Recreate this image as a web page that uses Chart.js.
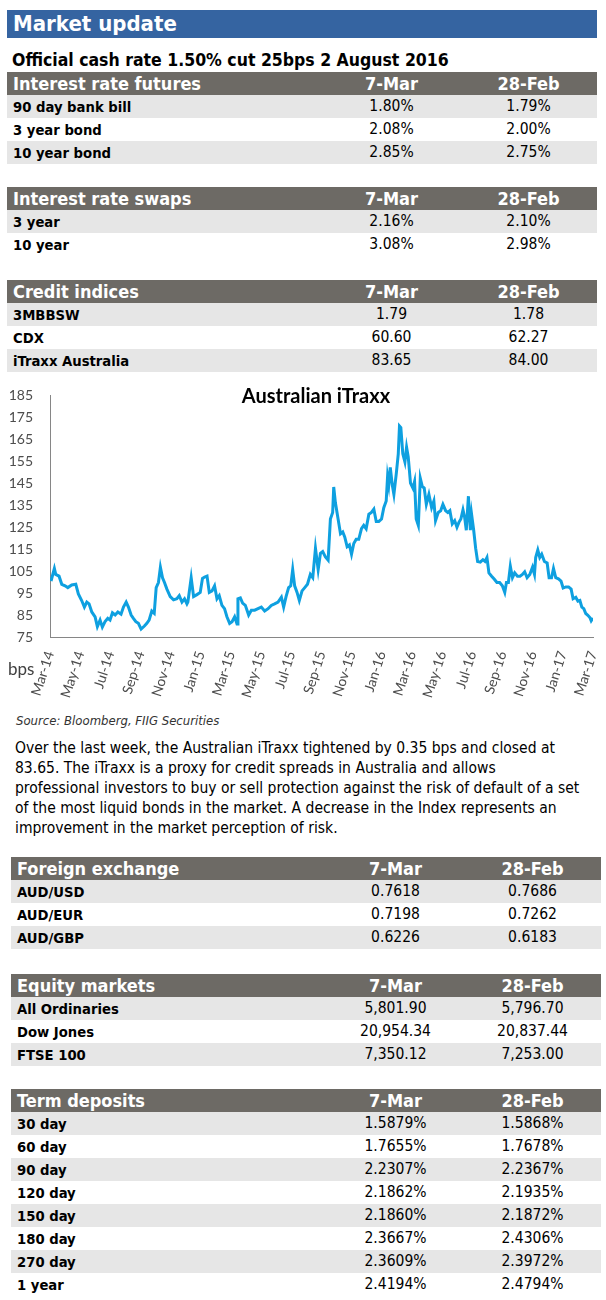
<!DOCTYPE html>
<html>
<head>
<meta charset="utf-8">
<title>Market update</title>
<script src="https://cdn.jsdelivr.net/npm/chart.js@4.4.1/dist/chart.umd.min.js"></script>
<style>
  body { margin: 0; background: #fff; }
  #page { position: relative; width: 606px; height: 1300px; overflow: hidden;
          font-family: "DejaVu Sans Condensed", "DejaVu Sans", sans-serif; font-stretch: condensed; color: #000; }
  .banner { position: absolute; left: 7px; top: 10px; width: 590px; height: 28px; box-sizing: border-box;
            background: #3564a1; color: #fff; font-weight: bold; font-size: 22px; line-height: 28px; padding-left: 6px; }
  .subtitle { position: absolute; left: 12px; top: 49px; font-weight: bold; font-size: 17.5px; line-height: 22px; white-space: nowrap; }
  table.mkt { position: absolute; width: 590px; border-collapse: collapse; table-layout: fixed; }
  table.mkt th, table.mkt td { padding: 0; height: 23px; line-height: 23px; white-space: nowrap; }
  table.mkt th { background: #6d6a65; color: #fff; font-size: 18px; font-weight: bold; text-align: center; }
  table.mkt th:first-child { text-align: left; padding-left: 6px; }
  table.mkt td { font-size: 15.5px; text-align: center; }
  table.mkt td:first-child { text-align: left; padding-left: 6px; font-weight: bold; font-size: 14.7px; }
  table.mkt tr.shade td { background: #e6e6e6; }
  #chartBox { position: absolute; left: 0; top: 378px; width: 606px; height: 330px; }
  .chartTitle { position: absolute; left: 196px; width: 240px; top: 384px; text-align: center;
                font-family: Lato, "Open Sans", sans-serif; font-weight: bold; font-size: 20px; line-height: 22px; }
  .bps { position: absolute; left: 8px; top: 659px; font-family: Lato, sans-serif; font-size: 17px; line-height: 20px; color: #404040; }
  .source { position: absolute; left: 16px; top: 713px; font-size: 13px; line-height: 15px; font-style: italic; color: #333; }
  .para { position: absolute; left: 15px; top: 738px; width: 585px; font-size: 15.5px; line-height: 20px; white-space: nowrap; }
</style>
</head>
<body>
<div id="page">
  <div class="banner">Market update</div>
  <div class="subtitle">Official cash rate 1.50% cut 25bps 2 August 2016</div>
  <div id="tables"></div>
  <div id="chartBox"><canvas id="itraxx" width="606" height="330"></canvas></div>
  <div class="chartTitle">Australian iTraxx</div>
  <div class="bps">bps</div>
  <div class="source">Source: Bloomberg, FIIG Securities</div>
  <div class="para">Over the last week, the Australian iTraxx tightened by 0.35 bps and closed at<br>83.65. The iTraxx is a proxy for credit spreads in Australia and allows<br>professional investors to buy or sell protection against the risk of default of a set<br>of the most liquid bonds in the market. A decrease in the Index represents an<br>improvement in the market perception of risk.</div>
</div>
<script>
// ─── TABLE DATA ─────────────────────────────────────────────────────
const dateCols = ['7-Mar', '28-Feb'];

const futuresNames = ['90 day bank bill', '3 year bond', '10 year bond'];
const futuresMar7 = ['1.80%', '2.08%', '2.85%'];
const futuresFeb28 = ['1.79%', '2.00%', '2.75%'];

const swapNames = ['3 year', '10 year'];
const swapMar7 = ['2.16%', '3.08%'];
const swapFeb28 = ['2.10%', '2.98%'];

const creditNames = ['3MBBSW', 'CDX', 'iTraxx Australia'];
const creditMar7 = ['1.79', '60.60', '83.65'];
const creditFeb28 = ['1.78', '62.27', '84.00'];

const fxNames = ['AUD/USD', 'AUD/EUR', 'AUD/GBP'];
const fxMar7 = ['0.7618', '0.7198', '0.6226'];
const fxFeb28 = ['0.7686', '0.7262', '0.6183'];

const equityNames = ['All Ordinaries', 'Dow Jones', 'FTSE 100'];
const equityMar7 = ['5,801.90', '20,954.34', '7,350.12'];
const equityFeb28 = ['5,796.70', '20,837.44', '7,253.00'];

const depositNames = ['30 day', '60 day', '90 day', '120 day', '150 day', '180 day', '270 day', '1 year'];
const depositMar7 = ['1.5879%', '1.7655%', '2.2307%', '2.1862%', '2.1860%', '2.3667%', '2.3609%', '2.4194%'];
const depositFeb28 = ['1.5868%', '1.7678%', '2.2367%', '2.1935%', '2.1872%', '2.4306%', '2.3972%', '2.4794%'];

// ─── CHART DATA (Australian iTraxx, bps) ────────────────────────────
const monthLabels = ['Mar-14','May-14','Jul-14','Sep-14','Nov-14','Jan-15','Mar-15','May-15','Jul-15','Sep-15',
                     'Nov-15','Jan-16','Mar-16','May-16','Jul-16','Sep-16','Nov-16','Jan-17','Mar-17'];
// months elapsed since 1 Mar 2014
const monthsFromMar14 = [
  0.07,0.29,0.38,0.60,0.78,1.00,1.18,1.44,1.71,1.88,2.10,2.28,2.44,2.59,2.77,2.99,3.14,3.32,3.47,3.65,
  3.83,3.98,4.14,4.32,4.50,4.71,4.87,5.05,5.20,5.38,5.53,5.69,5.86,6.04,6.26,6.42,6.57,6.75,6.91,7.04,
  7.19,7.32,7.46,7.59,7.75,7.97,8.19,8.41,8.57,8.75,8.92,9.08,9.14,9.36,9.52,9.74,9.96,10.11,10.25,10.41,
  10.56,10.74,10.91,11.07,11.22,11.40,11.57,11.73,11.91,12.07,12.24,12.40,12.46,12.62,12.77,12.95,13.17,13.35,13.57,13.79,
  14.01,14.23,14.46,14.67,14.89,15.12,15.34,15.49,15.65,15.82,15.96,16.09,16.22,16.38,16.53,16.71,16.89,17.07,17.26,17.42,
  17.60,17.78,17.93,18.08,18.26,18.44,18.59,18.74,18.81,18.92,19.10,19.26,19.41,19.54,19.70,19.85,19.99,20.14,20.30,20.47,
  20.65,20.80,20.96,21.14,21.31,21.47,21.63,21.80,21.98,22.13,22.29,22.38,22.46,22.56,22.69,22.80,22.96,23.09,23.17,23.26,
  23.39,23.53,23.64,23.75,23.90,24.06,24.17,24.28,24.42,24.55,24.68,24.81,24.95,25.12,25.30,25.45,25.56,25.74,25.90,26.05,
  26.23,26.38,26.51,26.67,26.83,26.98,27.11,27.24,27.38,27.49,27.60,27.74,27.87,27.95,28.09,28.22,28.35,28.53,28.70,28.84,
  28.97,29.10,29.28,29.46,29.63,29.81,29.99,30.15,30.26,30.39,30.52,30.66,30.81,30.99,31.16,31.32,31.47,31.63,31.81,31.99,
  32.12,32.20,32.34,32.47,32.60,32.78,32.96,33.09,33.25,33.38,33.53,33.71,33.88,34.02,34.20,34.38,34.55,34.68,34.86,35.00,
  35.13,35.26,35.39,35.52,35.66,35.79,35.88,36.00
];
const itraxxBps = [
  100.5,106.2,103.5,102.7,99.0,98.3,97.5,98.7,99.0,94.6,91.6,88.6,90.9,90.1,86.4,84.2,79.7,82.7,79.5,82.0,
  83.5,82.7,86.0,85.0,86.4,85.4,88.6,90.9,88.6,85.0,83.5,82.0,81.2,78.6,80.0,81.2,82.7,86.8,85.8,97.5,
  99.8,106.8,102.0,99.8,96.8,93.4,91.9,92.4,93.8,90.9,92.4,90.1,90.9,102.0,93.4,94.3,95.3,101.7,102.3,102.7,
  95.3,96.0,98.3,92.4,93.8,89.4,87.9,84.2,81.2,82.0,84.2,80.9,92.4,92.8,90.4,89.4,85.0,87.2,87.2,87.9,
  88.6,86.8,87.9,89.4,90.1,90.9,93.1,88.6,93.4,97.5,98.3,105.7,98.3,95.3,91.6,96.0,97.5,99.0,103.5,102.0,
  115.4,105.7,113.1,113.9,111.5,110.0,128.7,131.7,143.3,136.2,128.7,122.0,122.8,120.6,116.1,116.9,112.7,117.6,119.5,119.5,
  124.3,125.8,124.3,130.9,131.7,133.2,127.6,127.6,128.7,133.9,136.9,148.0,144.3,152.2,144.3,139.9,149.5,158.4,171.0,170.3,
  158.4,154.7,161.4,157.0,145.1,142.8,145.8,128.7,125.8,147.3,143.6,142.8,135.4,139.9,133.9,136.9,128.0,131.7,132.5,135.4,
  132.5,131.7,132.5,126.5,128.0,125.0,127.2,128.7,132.9,129.5,123.6,139.1,123.6,130.9,123.6,115.4,109.4,109.1,110.2,109.4,
  111.2,104.2,102.7,101.3,99.8,99.8,98.3,95.3,99.8,99.8,107.2,102.0,104.2,102.7,102.7,103.5,104.7,102.0,103.5,106.8,
  103.5,111.2,114.6,111.2,112.7,109.4,108.7,102.0,102.0,106.2,102.0,101.5,100.5,97.3,97.8,97.8,96.8,92.4,93.1,91.3,
  91.6,88.6,87.9,85.7,84.9,83.9,82.4,83.65
];

// ─── TABLES ─────────────────────────────────────────────────────────
function buildTable(title, names, mar7, feb28, left, top) {
  const rows = names.map((n, i) => `
    <tr class="${i % 2 === 0 ? 'shade' : ''}"><td>${n}</td><td>${mar7[i]}</td><td>${feb28[i]}</td></tr>`).join('');
  return `<table class="mkt" style="left:${left}px;top:${top}px">
    <colgroup><col style="width:316px"><col style="width:137px"><col style="width:137px"></colgroup>
    <tr><th>${title}</th><th>${dateCols[0]}</th><th>${dateCols[1]}</th></tr>${rows}
  </table>`;
}

document.getElementById('tables').innerHTML = [
  buildTable('Interest rate futures', futuresNames, futuresMar7, futuresFeb28, 7, 72),
  buildTable('Interest rate swaps', swapNames, swapMar7, swapFeb28, 7, 187),
  buildTable('Credit indices', creditNames, creditMar7, creditFeb28, 7, 280),
  buildTable('Foreign exchange', fxNames, fxMar7, fxFeb28, 11, 857),
  buildTable('Equity markets', equityNames, equityMar7, equityFeb28, 11, 974),
  buildTable('Term deposits', depositNames, depositMar7, depositFeb28, 11, 1089)
].join('');

// ─── CHART ──────────────────────────────────────────────────────────
const axisFont = { family: 'Lato', size: 14 };

new Chart(document.getElementById('itraxx'), {
  type: 'line',
  data: {
    datasets: [{
      data: monthsFromMar14.map((m, i) => ({ x: m, y: itraxxBps[i] })),
      borderColor: '#0ea0e0',
      borderWidth: 3,
      pointRadius: 0,
      tension: 0,
      fill: false
    }]
  },
  options: {
    responsive: false,
    animation: false,
    layout: { padding: { top: 12, right: 13, left: 0, bottom: 0 } },
    plugins: { legend: { display: false }, tooltip: { enabled: false } },
    scales: {
      x: {
        type: 'linear', min: 0, max: 36,
        grid: { display: false },
        border: { color: '#868686', width: 1 },
        afterBuildTicks: s => { s.ticks = monthLabels.map((_, i) => ({ value: i * 2 })); },
        afterFit: s => { s.height = 71; s.paddingRight = 0; s.paddingLeft = 0; },
        ticks: {
          autoSkip: false, minRotation: 72, maxRotation: 72, padding: 4,
          color: '#4d4d4d', font: axisFont,
          callback: v => monthLabels[Math.round(v / 2)]
        }
      },
      y: {
        min: 75, max: 185,
        grid: { display: false },
        border: { color: '#868686', width: 1 },
        afterFit: s => { s.width = 50; },
        ticks: { stepSize: 10, padding: 9, color: '#4d4d4d', font: axisFont }
      }
    }
  }
});
</script>
</body>
</html>
